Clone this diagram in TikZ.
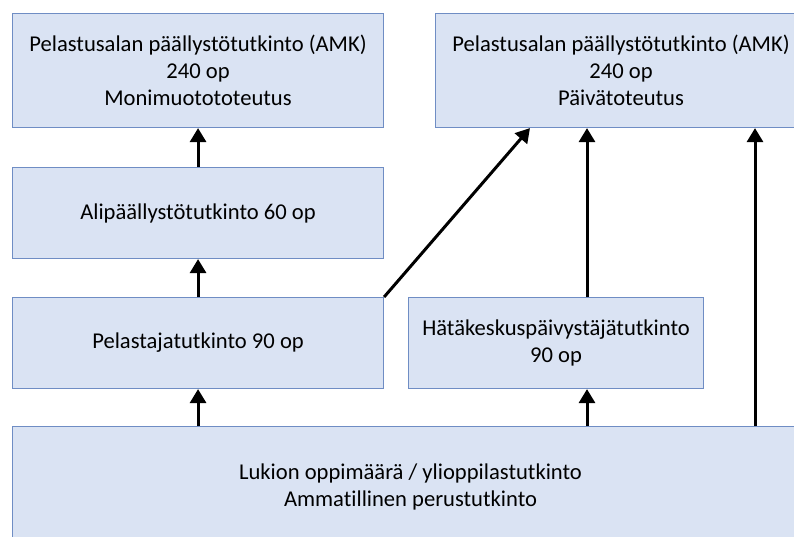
\documentclass[tikz,border=0pt]{standalone}
\usepackage{fontspec}
\setmainfont{Carlito}[RawFeature={-liga}]
\usetikzlibrary{arrows.meta}
\definecolor{boxfill}{HTML}{DAE3F3}
\definecolor{boxline}{HTML}{6F8DC4}
\tikzset{
  box/.style={draw=boxline, fill=boxfill, line width=1.1pt, anchor=north west,
    align=center, inner sep=0pt,
    font=\fontsize{22.6}{27}\selectfont, text=black},
  arr/.style={line width=3pt, -{Triangle[length=14pt,width=16pt]}}
}
\begin{document}
\begin{tikzpicture}[x=1pt,y=-1pt]
\useasboundingbox (0,0) rectangle (794,537);
\begin{scope}
\clip (0,0) rectangle (794,537);
% boxes
\node[box, minimum width=371, minimum height=114] (b1) at (12,13)
  {Pelastusalan päällystötutkinto (AMK)\\240 op\\Monimuotototeutus};
\node[box, minimum width=371, minimum height=114] (b2) at (435,13)
  {Pelastusalan päällystötutkinto (AMK)\\240 op\\Päivätoteutus};
\node[box, minimum width=371, minimum height=91] (b3) at (12,167)
  {Alipäällystötutkinto 60 op};
\node[box, minimum width=371, minimum height=91] (b4) at (12,297)
  {Pelastajatutkinto 90 op};
\node[box, minimum width=295, minimum height=91] (b5) at (408,297)
  {Hätäkeskuspäivystäjätutkinto\\90 op};
\node[box, minimum width=796, minimum height=120] (b6) at (12,426)
  {Lukion oppimäärä / ylioppilastutkinto\\Ammatillinen perustutkinto};
% arrow columns
\coordinate (cx1) at (587,0);
\coordinate (cx2) at (755,0);
\coordinate (cx3) at (530,0);
\draw[arr] (b3.north) -- (b1.south);
\draw[arr] (b4.north) -- (b3.south);
\draw[arr] (b6.north -| b4.north) -- (b4.south);
\draw[arr] (b6.north -| cx1) -- (b5.south -| cx1);
\draw[arr] (b5.north -| cx1) -- (b2.south -| cx1);
\draw[arr] (b6.north -| cx2) -- (b2.south -| cx2);
\draw[arr] (b4.north east) -- (b2.south -| cx3);
\end{scope}
\end{tikzpicture}
\end{document}
